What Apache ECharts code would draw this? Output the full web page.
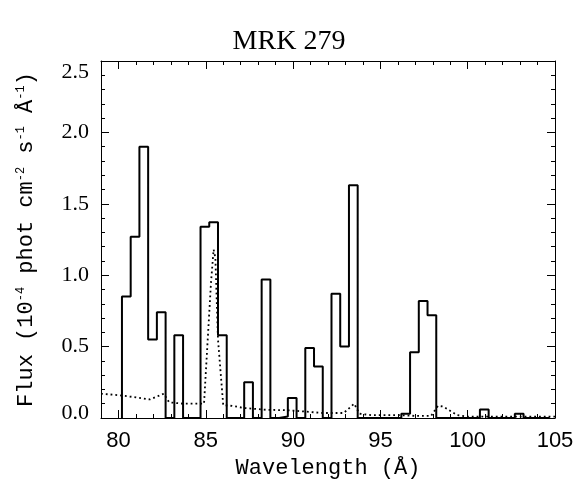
<!DOCTYPE html>
<html>
<head>
<meta charset="utf-8">
<script src="https://cdn.jsdelivr.net/npm/echarts@6/dist/echarts.min.js"></script>
<style>
  html, body { margin: 0; padding: 0; background: #fff; }
  #main { width: 578px; height: 495px; }
</style>
</head>
<body>
<div id="main"></div>
<script>
// histogram bins (edges in Å) and flux
const binEdges = [80.2, 80.7, 81.2, 81.7, 82.2, 82.7, 83.2, 83.7, 84.2, 84.7, 85.2, 85.7, 86.2, 86.7,
  87.2, 87.7, 88.2, 88.7, 89.2, 89.7, 90.2, 90.7, 91.2, 91.7, 92.2, 92.7, 93.2, 93.7, 94.2, 94.7,
  95.2, 95.7, 96.2, 96.7, 97.2, 97.7, 98.2, 98.7, 99.2, 99.7, 100.2, 100.7, 101.2, 101.7, 102.2,
  102.7, 103.2, 103.7, 104.2, 104.7];
const binFlux = [0.85, 1.27, 1.90, 0.55, 0.74, 0, 0.58, 0, 0, 1.34, 1.37, 0.58, 0, 0,
  0.25, 0, 0.97, 0, 0.01, 0.14, 0, 0.49, 0.36, 0, 0.87, 0.50, 1.63, 0, 0, 0,
  0, 0, 0.03, 0.46, 0.82, 0.72, 0, 0, 0, 0, 0, 0.06, 0, 0, 0,
  0.03, 0, 0, 0];

// dotted curve
const errWave = [79.0, 80.0, 81.0, 81.8, 82.6, 82.9, 83.7, 84.9, 85.3, 85.45, 85.55, 85.7, 86.0, 86.5, 87.2,
  88.5, 89.5, 90.2, 91.7, 92.9, 93.5, 93.8, 94.5, 96.0, 97.0, 97.9, 98.3, 98.6, 99.4, 100.0, 105.0];
const errFlux = [0.17, 0.16, 0.145, 0.13, 0.17, 0.11, 0.10, 0.10, 0.95, 1.18, 1.12, 0.55, 0.09, 0.085, 0.07,
  0.057, 0.055, 0.05, 0.035, 0.035, 0.10, 0.03, 0.02, 0.02, 0.015, 0.015, 0.085, 0.08, 0.02, 0.01, 0.01];

const xMajor = [80, 85, 90, 95, 100, 105];

//build step outline
const getStepData = () => {
  const pts = [[binEdges[0], 0]];
  binFlux.forEach((v, i) => {
    pts.push([binEdges[i], v]);
    pts.push([binEdges[i + 1], v]);
  });
  pts.push([binEdges[binEdges.length - 1], 0]);
  return pts;
};

const lineCol = '#000';
const xBase = { type: 'value', min: 79, max: 105, splitLine: { show: false } };
const yLabFont = { fontFamily: 'Liberation Serif', fontSize: 22, color: '#000' };

const initChart = () => {
  const myChart = echarts.init(document.getElementById('main'));
  const option = {
    animation: false,
    backgroundColor: '#fff',
    title: {
      text: 'MRK 279',
      left: 'center',
      top: 23,
      textStyle: { fontFamily: 'Liberation Serif', fontSize: 28, fontWeight: 'normal', color: '#000' }
    },
    grid: { left: 101, right: 23, top: 61, bottom: 77 },
    xAxis: [
      {
        ...xBase, position: 'bottom',
        name: 'Wavelength (Å)', nameLocation: 'middle', nameGap: 38,
        nameTextStyle: { fontFamily: 'Liberation Mono', fontSize: 22, color: '#000' },
        axisLine: { show: true, lineStyle: { color: lineCol, width: 1 } },
        axisTick: { show: true, inside: true, length: 8, customValues: xMajor, lineStyle: { color: lineCol } },
        axisLabel: { customValues: xMajor, margin: 12, fontFamily: 'Liberation Sans', fontSize: 22, color: '#000' }
      },
      {
        ...xBase, position: 'bottom', interval: 1,
        axisLine: { show: false },
        axisTick: { show: true, inside: true, length: 4, lineStyle: { color: lineCol } },
        axisLabel: { show: false }
      },
      {
        ...xBase, position: 'top',
        axisLine: { show: true, lineStyle: { color: lineCol, width: 1 } },
        axisTick: { show: true, inside: true, length: 8, customValues: xMajor, lineStyle: { color: lineCol } },
        axisLabel: { show: false }
      },
      {
        ...xBase, position: 'top', interval: 1,
        axisLine: { show: false },
        axisTick: { show: true, inside: true, length: 4, lineStyle: { color: lineCol } },
        axisLabel: { show: false }
      }
    ],
    yAxis: [
      {
        type: 'value', min: 0, max: 2.5, interval: 0.5, position: 'left',
        name: '{n|Flux (10}{s|-4}{n| phot cm}{s|-2}{n| s}{s|-1}{n| Å}{s|-1}{n|)}',
        nameLocation: 'middle', nameRotate: 90, nameGap: 64,
        nameTextStyle: {
          color: '#000',
          rich: {
            n: { fontFamily: 'Liberation Mono', fontSize: 22, color: '#000' },
            s: { fontFamily: 'Liberation Mono', fontSize: 12, color: '#000', verticalAlign: 'top' }
          }
        },
        splitLine: { show: false },
        axisLine: { show: true, lineStyle: { color: lineCol, width: 1 } },
        axisTick: { show: true, inside: true, length: 8, lineStyle: { color: lineCol } },
        minorTick: { show: true, splitNumber: 5, length: 4, lineStyle: { color: lineCol } },
        axisLabel: {
          margin: 12, ...yLabFont,
          // end labels sit a little inside the box, as in the original
          formatter: v => {
            const t = v.toFixed(1);
            if (v >= 2.5) return '{hi|' + t + '}';
            if (v <= 0) return '{lo|' + t + '}';
            return t;
          },
          rich: {
            hi: { ...yLabFont, padding: [22, 0, 0, 0] },
            lo: { ...yLabFont, padding: [0, 0, 10, 0] }
          }
        }
      },
      {
        type: 'value', min: 0, max: 2.5, interval: 0.5, position: 'right',
        splitLine: { show: false },
        axisLine: { show: true, lineStyle: { color: lineCol, width: 1 } },
        axisTick: { show: true, inside: true, length: 8, lineStyle: { color: lineCol } },
        minorTick: { show: true, splitNumber: 5, length: 4, lineStyle: { color: lineCol } },
        axisLabel: { show: false }
      }
    ],
    series: [
      {
        name: 'error',
        type: 'line',
        data: errWave.map((w, i) => [w, errFlux[i]]),
        showSymbol: false,
        lineStyle: { color: '#000', width: 1.8, type: [1.8, 3] },
        z: 2
      },
      {
        name: 'flux',
        type: 'line',
        data: getStepData(),
        showSymbol: false,
        lineStyle: { color: '#000', width: 2 },
        z: 3
      }
    ]
  };
  myChart.setOption(option);
};

initChart();
</script>
</body>
</html>
